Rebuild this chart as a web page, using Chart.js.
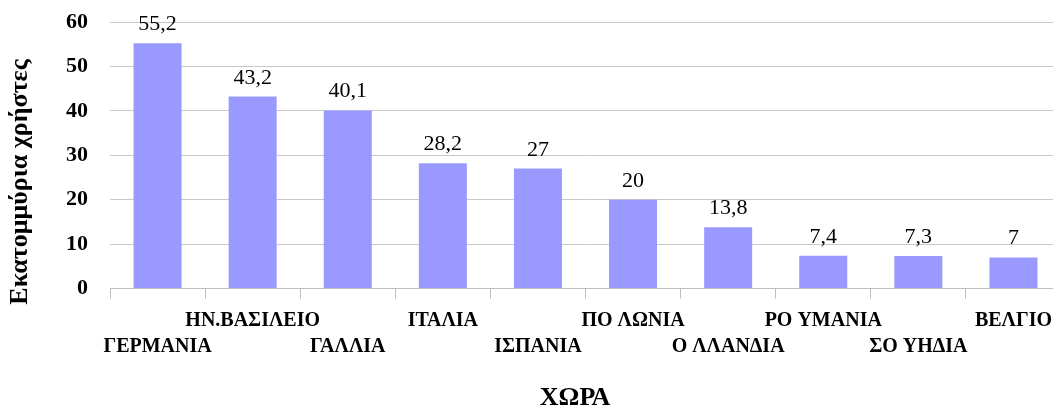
<!DOCTYPE html>
<html>
<head>
<meta charset="utf-8">
<style>
  html, body { margin: 0; padding: 0; background: #fff; overflow: hidden; }
  #wrap { position: absolute; left: 0; top: 0; width: 1062px; height: 409px; }
</style>
</head>
<body>
<div id="wrap">
  <canvas id="myChart" width="1062" height="409"></canvas>
</div>

<script type="text/javascript" src="https://cdn.jsdelivr.net/npm/chart.js/dist/chart.umd.min.js"></script>
<script>
  // Data
  const countries = ['ΓΕΡΜΑΝΙΑ', 'ΗΝ.ΒΑΣΙΛΕΙΟ', 'ΓΑΛΛΙΑ', 'ΙΤΑΛΙΑ', 'ΙΣΠΑΝΙΑ',
                     'ΠΟ ΛΩΝΙΑ', 'Ο ΛΛΑΝΔΙΑ', 'ΡΟ ΥΜΑΝΙΑ', 'ΣΟ ΥΗΔΙΑ', 'ΒΕΛΓΙΟ'];
  const users = [55.2, 43.2, 40.1, 28.2, 27, 20, 13.8, 7.4, 7.3, 7];
  const yTicks = [0, 10, 20, 30, 40, 50, 60];
  const xTitle = 'ΧΩΡΑ';
  const yTitle = 'Εκατομμύρια χρήστες';

  const serif = "'Liberation Serif', 'Times New Roman', serif";

  // staggered labels: even index on the lower row, odd on the upper row
  const labels = countries.map((c, i) => i % 2 === 0 ? ['', c] : [c, '']);

  const valueLabels = {
    id: 'valueLabels',
    afterDatasetsDraw(chart) {
      const { ctx } = chart;
      const meta = chart.getDatasetMeta(0);
      ctx.save();
      ctx.font = '22px ' + serif;
      ctx.fillStyle = '#000';
      ctx.textAlign = 'center';
      ctx.textBaseline = 'alphabetic';
      meta.data.forEach((bar, i) => {
        ctx.fillText(String(users[i]).replace('.', ','), bar.x, bar.y - 13);
      });
      ctx.restore();
    }
  };

  const axisTitles = {
    id: 'axisTitles',
    afterDraw(chart) {
      const { ctx } = chart;
      ctx.save();
      ctx.font = 'bold 26px ' + serif;
      ctx.fillStyle = '#000';
      ctx.textAlign = 'center';
      ctx.textBaseline = 'middle';
      ctx.fillText(xTitle, 575, 398);
      ctx.translate(20, 182);
      ctx.rotate(-Math.PI / 2);
      ctx.fillText(yTitle, 0, 0);
      ctx.restore();
    }
  };

  const config = {
    type: 'bar',
    data: {
      labels: labels,
      datasets: [{
        data: users,
        backgroundColor: '#9999ff',
        borderWidth: 0,
        categoryPercentage: 1,
        barPercentage: 0.505
      }]
    },
    options: {
      responsive: false,
      animation: false,
      layout: { padding: { top: 22, right: 1, left: 0, bottom: 0 } },
      plugins: {
        legend: { display: false },
        tooltip: { enabled: false }
      },
      scales: {
        x: {
          afterFit(scale) { scale.height = 120.5; },
          grid: {
            offset: true,
            drawOnChartArea: false,
            tickLength: 10,
            color: '#bfbfbf'
          },
          border: { color: '#bfbfbf' },
          ticks: {
            autoSkip: false,
            maxRotation: 0,
            minRotation: 0,
            padding: 9,
            color: '#000',
            font: { family: serif, size: 20, weight: 'bold', lineHeight: '26px' }
          }
        },
        y: {
          min: 0,
          max: 60,
          afterFit(scale) {
            scale.width = 110;
            scale.paddingTop = 0;
            scale.paddingBottom = 0;
          },
          afterBuildTicks(scale) { scale.ticks = yTicks.map(v => ({ value: v })); },
          grid: { drawTicks: false, color: '#c8c8c8' },
          border: { display: false },
          ticks: {
            padding: 22,
            color: '#000',
            font: { family: serif, size: 22, weight: 'bold' }
          }
        }
      }
    },
    plugins: [valueLabels, axisTitles]
  };

  const myChart = new Chart(document.getElementById('myChart'), config);
</script>
</body>
</html>
